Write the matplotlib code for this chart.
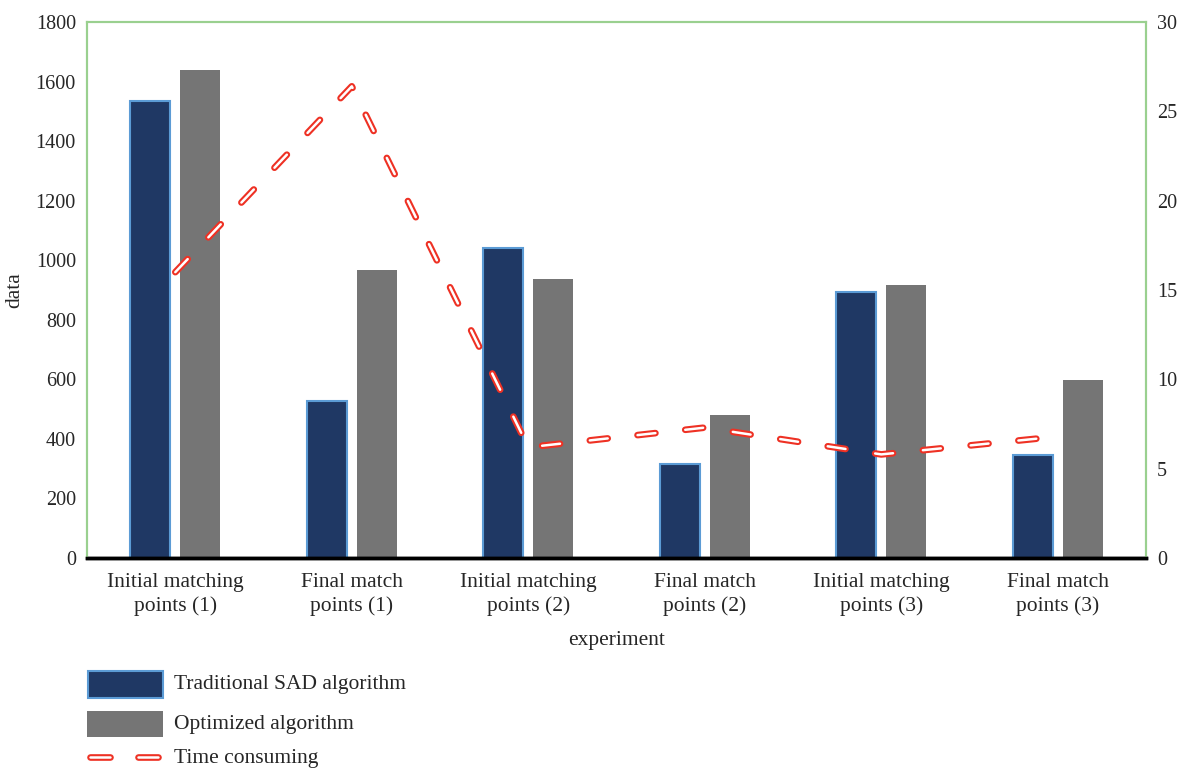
import numpy as np
import matplotlib.pyplot as plt
from matplotlib.lines import Line2D
from matplotlib.patches import Rectangle

plt.rcParams['font.family'] = ['Liberation Serif', 'DejaVu Serif']

categories = ["Initial matching\npoints (1)", "Final match\npoints (1)",
              "Initial matching\npoints (2)", "Final match\npoints (2)",
              "Initial matching\npoints (3)", "Final match\npoints (3)"]
sad = [1535, 527, 1041, 316, 893, 346]
optimized = [1639, 967, 937, 480, 917, 598]
time_used = [16.0, 26.4, 6.2, 7.3, 5.8, 6.8]

navy = '#1f3864'
navy_edge = '#5b9bd5'
grey = '#757575'
green = '#9ad08f'
red = '#ee3124'
txt = '#262626'

W, H = 1186, 774
fig = plt.figure(figsize=(W / 100, H / 100), dpi=100)
ax = fig.add_axes([0.0734, 0.279, 0.8929, 0.6926])
ax2 = ax.twinx()

x = np.arange(len(categories))
w = 0.227
off = 0.142
ax.bar(x - off, sad, w, color=navy, edgecolor=navy_edge, linewidth=1.5)
ax.bar(x + off, optimized, w, color=grey, edgecolor='none')

ax.set_xlim(-0.5, 5.5)
ax.set_ylim(0, 1800)
ax.set_yticks(np.arange(0, 1801, 200))
ax.set_xticks(x)
ax.set_xticklabels(categories, fontsize=15.5, linespacing=1.25)
ax.set_xlabel('experiment', fontsize=15.5, color=txt, labelpad=11)
ax.set_ylabel('data', fontsize=15.5, color=txt, labelpad=8)

# double-stroked dashed line: red outer stroke, white core
outer = dict(color=red, lw=4.8, dashes=(2.7, 4.5), dash_capstyle='round')
inner = dict(color='white', lw=1.8, dashes=(7.2, 12.0), dash_capstyle='round')
ax2.plot(x, time_used, **outer)
ax2.plot(x, time_used, **inner)
ax2.set_ylim(0, 30)
ax2.set_yticks(np.arange(0, 31, 5))

for a in (ax, ax2):
    a.tick_params(length=0, labelsize=14.5, labelcolor=txt, pad=8)
    for s in ('left', 'right', 'top'):
        a.spines[s].set_color(green)
        a.spines[s].set_linewidth(1.5)
    a.spines['bottom'].set_color('black')
    a.spines['bottom'].set_linewidth(2.5)
ax.tick_params(axis='x', labelsize=15.5, pad=11)


# legend drawn by hand, in pixel positions from the top-left corner
def fx(px):
    return px / W


def fy(py):
    return 1 - py / H


fig.add_artist(Rectangle((fx(88), fy(698)), fx(75), 27 / H, transform=fig.transFigure,
                         facecolor=navy, edgecolor=navy_edge, linewidth=1.5))
fig.add_artist(Rectangle((fx(87), fy(737)), fx(76), 26 / H, transform=fig.transFigure,
                         facecolor=grey, edgecolor='none'))
leg_x = [fx(90), fx(160)]
leg_y = [fy(757), fy(757)]
fig.add_artist(Line2D(leg_x, leg_y, transform=fig.transFigure, color=red, lw=4.8,
                      dashes=(3.0, 4.2), dash_capstyle='round'))
fig.add_artist(Line2D(leg_x, leg_y, transform=fig.transFigure, color='white', lw=1.8,
                      dashes=(8.0, 11.2), dash_capstyle='round'))
for label, py in [('Traditional SAD algorithm', 684), ('Optimized algorithm', 724),
                  ('Time consuming', 758)]:
    fig.text(fx(174), fy(py), label, fontsize=15.5, color=txt, va='center', ha='left')

fig.savefig('out.png', dpi=100)
